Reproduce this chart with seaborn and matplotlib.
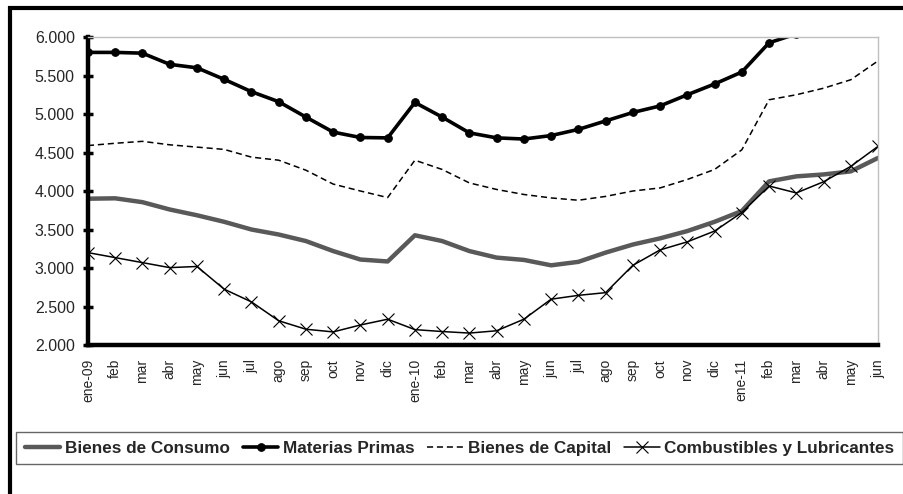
import numpy as np
import pandas as pd
import seaborn as sns
import matplotlib.pyplot as plt
from matplotlib.patches import Rectangle
from matplotlib.ticker import FixedLocator, FuncFormatter

months = ['ene-09', 'feb', 'mar', 'abr', 'may', 'jun', 'jul', 'ago', 'sep', 'oct', 'nov', 'dic',
          'ene-10', 'feb', 'mar', 'abr', 'may', 'jun', 'jul', 'ago', 'sep', 'oct', 'nov', 'dic',
          'ene-11', 'feb', 'mar', 'abr', 'may', 'jun']

bienes_consumo = [3900, 3905, 3855, 3760, 3685, 3600, 3500, 3435, 3350, 3220, 3110, 3085,
                  3425, 3350, 3220, 3135, 3105, 3035, 3080, 3200, 3305, 3385, 3480, 3600,
                  3740, 4125, 4190, 4215, 4255, 4430]
materias_primas = [5800, 5800, 5790, 5645, 5600, 5450, 5290, 5160, 4960, 4765, 4695, 4690,
                   5150, 4960, 4755, 4690, 4675, 4720, 4800, 4910, 5020, 5105, 5250, 5390,
                   5545, 5925, 6040, 6120, 6220, 6350]
bienes_capital = [4590, 4620, 4645, 4600, 4570, 4540, 4440, 4400, 4270, 4090, 4000, 3915,
                  4400, 4280, 4105, 4020, 3955, 3910, 3880, 3930, 4000, 4040, 4150, 4280,
                  4535, 5185, 5250, 5335, 5445, 5690]
combustibles = [3200, 3135, 3070, 3005, 3020, 2725, 2560, 2315, 2205, 2170, 2260, 2335,
                2200, 2175, 2155, 2185, 2335, 2595, 2645, 2680, 3035, 3235, 3340, 3480,
                3720, 4065, 3975, 4120, 4320, 4580]

y_ticks = [2000, 2500, 3000, 3500, 4000, 4500, 5000, 5500, 6000]

sns.set_theme(style="white")
plt.rcParams['font.family'] = ['Liberation Sans', 'DejaVu Sans']

x_pos = np.arange(len(months))
df = pd.DataFrame({
    'pos': x_pos,
    'Bienes de Consumo': bienes_consumo,
    'Materias Primas': materias_primas,
    'Bienes de Capital': bienes_capital,
    'Combustibles y Lubricantes': combustibles,
})

fig = plt.figure(figsize=(9.04, 4.94), dpi=100)
ax = fig.add_axes([0.0973, 0.3016, 0.874, 0.6235])

sns.lineplot(data=df, x='pos', y='Bienes de Consumo', ax=ax, color='#595959',
             linewidth=3.2, label='Bienes de Consumo')
sns.lineplot(data=df, x='pos', y='Materias Primas', ax=ax, color='black',
             linewidth=2.6, marker='o', markersize=5.5, markeredgecolor='black',
             label='Materias Primas')
sns.lineplot(data=df, x='pos', y='Bienes de Capital', ax=ax, color='black',
             linewidth=1.1, dashes=(4, 2.5), label='Bienes de Capital')
sns.lineplot(data=df, x='pos', y='Combustibles y Lubricantes', ax=ax, color='black',
             linewidth=1.1, marker='x', markersize=9, markeredgewidth=0.8,
             markeredgecolor='black', label='Combustibles y Lubricantes')

ax.set_xlim(0, len(months) - 1)
ax.set_ylim(2000, 6000)
ax.set_xlabel('')
ax.set_ylabel('')

# x axis: month labels + crossing ticks every six months
ax.set_xticks(x_pos)
ax.set_xticklabels(months, rotation=90, fontsize=10)
ax.tick_params(axis='x', which='major', length=0, pad=10)
ax.xaxis.set_minor_locator(FixedLocator([6, 12, 18, 24]))
ax.tick_params(axis='x', which='minor', direction='inout', length=7, width=2.5,
               color='black', bottom=True)

ax.set_yticks(y_ticks)
ax.yaxis.set_major_formatter(FuncFormatter(lambda v, p: f"{int(v):,}".replace(',', '.')))
ax.tick_params(axis='y', direction='inout', length=7, width=2.5, color='black',
               labelsize=11.5, pad=6, left=True)

ax.spines['left'].set_linewidth(3.2)
ax.spines['left'].set_color('black')
ax.spines['bottom'].set_linewidth(3.2)
ax.spines['bottom'].set_color('black')
for s in ['top', 'right']:
    ax.spines[s].set_linewidth(1.0)
    ax.spines[s].set_color('#c0c0c0')
ax.grid(False)

handles, labels = ax.get_legend_handles_labels()
ax.legend_.remove()
leg = fig.legend(handles, labels, loc='center', ncol=4, mode='expand',
                 bbox_to_anchor=(0.0177, 0.047, 0.9808, 0.0907),
                 prop={'weight': 'bold', 'size': 12.3}, frameon=True,
                 fancybox=False, handlelength=2.1, handletextpad=0.25,
                 columnspacing=0.6, borderpad=0.5, borderaxespad=0)
leg.get_frame().set_edgecolor('#404040')
leg.get_frame().set_linewidth(1.0)

# outer chart frame
fig.patches.append(Rectangle((0.0115, -0.05), 1.2, 1.034, transform=fig.transFigure,
                             fill=False, edgecolor='black', linewidth=3, clip_on=False))

plt.savefig('out.png', dpi=100)
plt.close()
